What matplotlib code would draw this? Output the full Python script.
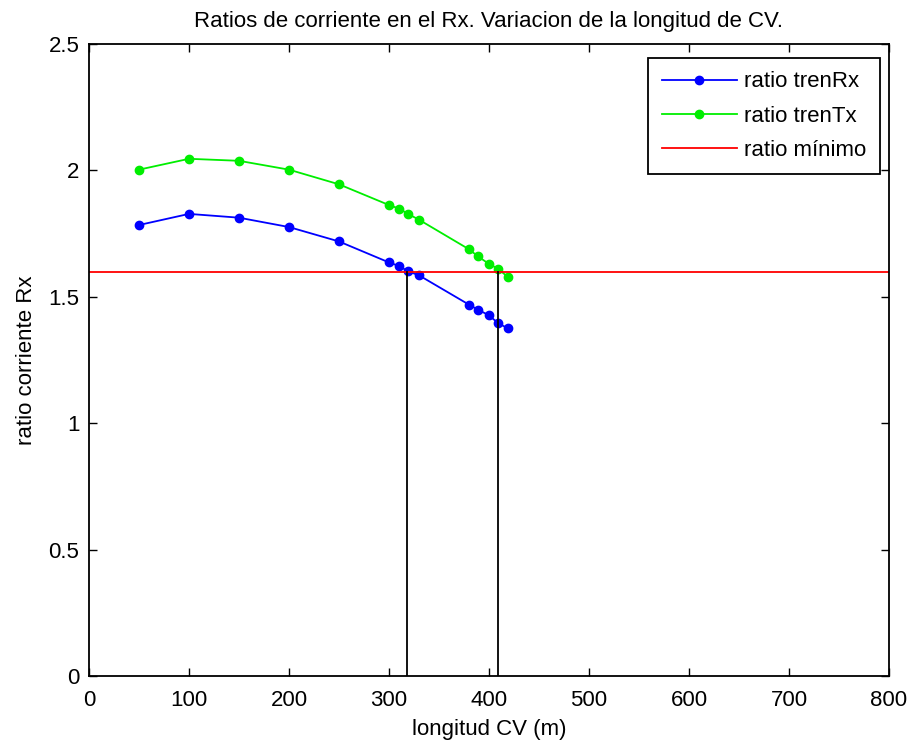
import matplotlib
matplotlib.use("Agg")
import matplotlib.pyplot as plt

plt.rcParams['font.family'] = ['Liberation Sans', 'DejaVu Sans']

longitud = [50, 100, 150, 200, 250, 300, 310, 319, 330, 380, 389, 400, 409, 419]
ratio_rx = [1.784, 1.828, 1.813, 1.776, 1.719, 1.636, 1.622, 1.601, 1.585, 1.469, 1.449, 1.427, 1.396, 1.375]
ratio_tx = [2.003, 2.046, 2.038, 2.003, 1.945, 1.863, 1.849, 1.828, 1.805, 1.688, 1.660, 1.630, 1.611, 1.578]
ratio_min = 1.6
x_limits = [318, 408.7]

fig = plt.figure(figsize=(9.14, 7.46), dpi=100)
ax = fig.add_axes([0.0974, 0.0938, 0.8752, 0.8472])

ax.plot(longitud, ratio_rx, '-o', color='#0000ff', markersize=6, linewidth=1.3, label='ratio trenRx')
ax.plot(longitud, ratio_tx, '-o', color='#00ee00', markersize=6, linewidth=1.3, label='ratio trenTx')
ax.axhline(ratio_min, color='#ff0000', linewidth=1.3, label='ratio mínimo')
for xv in x_limits:
    ax.plot([xv, xv], [0, ratio_min], color='black', linewidth=1.3)

ax.set_xlim(0, 800)
ax.set_ylim(0, 2.5)
ax.set_xticks(range(0, 801, 100))
ax.set_yticks([0, 0.5, 1, 1.5, 2, 2.5])
ax.set_yticklabels(['0', '0.5', '1', '1.5', '2', '2.5'])
ax.tick_params(direction='in', top=True, right=True, labelsize=16, length=6, width=1)
ax.tick_params(axis='x', pad=10)
ax.tick_params(axis='y', pad=7)
for s in ax.spines.values():
    s.set_linewidth(1.3)

ax.set_xlabel('longitud CV (m)', fontsize=16, labelpad=6)
ax.set_ylabel('ratio corriente Rx', fontsize=16, labelpad=8)
ax.set_title('Ratios de corriente en el Rx. Variacion de la longitud de CV.', fontsize=16, pad=12)

leg = ax.legend(loc='upper right', bbox_to_anchor=(0.98875, 0.9778), borderaxespad=0,
                fontsize=16, fancybox=False, framealpha=1, edgecolor='black',
                handlelength=3.4, handletextpad=0.32, labelspacing=0.6,
                borderpad=0.6, markerscale=1.0)
leg.get_frame().set_linewidth(1.3)

fig.savefig('out.png', dpi=100)
